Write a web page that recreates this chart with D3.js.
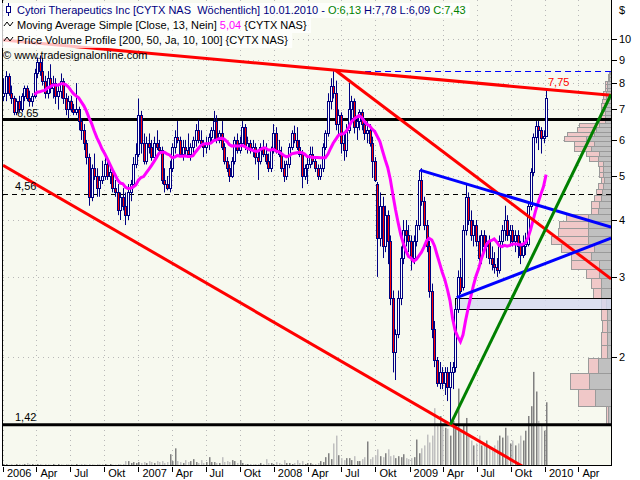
<!DOCTYPE html>
<html><head><meta charset="utf-8">
<script src="https://cdn.jsdelivr.net/npm/d3@7"></script>
<style>
body{margin:0;background:#fff}
svg{display:block}
text{font-family:"Liberation Sans",Arial,sans-serif;font-size:11px;white-space:pre}
</style>
</head><body>
<svg id="c" width="640" height="480"></svg>
<script>
// ---------- DATA ----------
// weekly candles [open, high, low, close], first week 2006-01-02 (Mondays)
const ohlc2006 = [
[7.5,8.2,7.3,7.6],[7.6,8.5,7.3,8.3],[8.3,8.4,7.5,7.6],[7.6,7.9,7.2,7.4],[7.4,7.5,6.8,6.9],
[6.9,7.4,6.8,7.3],[7.3,7.5,6.9,7.0],[7.0,7.6,6.9,7.5],[7.5,7.9,7.3,7.8],[7.8,7.9,7.3,7.4],
[7.4,7.7,7.1,7.3],[7.3,7.6,7.1,7.5],[7.5,8.6,7.4,8.4],[8.4,9.1,8.2,8.9],[8.9,9.2,8.3,8.5],
[8.5,9.1,7.9,8.1],[8.1,8.3,7.4,7.6],[7.6,8.5,7.4,8.2],[8.2,8.8,7.6,7.8],[7.8,8.3,7.4,8.0],
[8.0,8.2,7.2,7.5],[7.5,7.9,7.0,7.7],[7.7,8.4,7.4,8.1],[8.1,8.2,7.2,7.4],[7.4,7.6,6.8,7.0],
[7.0,7.5,6.7,7.3],[7.3,7.5,6.9,7.0],[7.0,7.2,6.8,6.9],[6.9,8.0,6.8,7.0],[7.0,7.1,6.3,6.6],
[6.6,6.7,6.0,6.3],[6.3,6.5,5.7,5.9],[5.9,6.0,5.3,5.5],[5.5,5.6,4.3,4.5],[4.5,5.3,4.4,5.2],
[5.2,5.6,4.9,5.0],[5.0,5.2,4.5,4.7],[4.7,5.0,4.5,4.9],[4.9,5.4,4.8,5.0],[5.0,5.6,4.9,5.3],
[5.3,5.5,4.9,5.0],[5.0,5.2,4.8,5.1],[5.1,5.1,4.6,4.7],[4.7,4.9,4.5,4.6],[4.6,4.8,4.1,4.2],
[4.2,4.6,4.0,4.5],[4.5,4.7,4.2,4.3],[4.3,4.6,3.9,4.1],[4.1,4.8,4.0,4.6],[4.6,4.9,4.4,4.8],
[4.8,5.5,4.7,5.3],[5.3,5.9,5.2,5.6]];
const ohlc2007 = [
[5.6,7.4,5.5,6.8],[6.8,6.95,5.6,5.9],[5.9,6.2,5.3,5.4],[5.4,6.1,5.3,5.9],[5.9,6.2,5.6,5.8],
[5.8,6.0,5.4,5.5],[5.5,6.1,5.5,5.9],[5.9,6.3,5.7,5.8],[5.8,6.0,5.6,5.7],[5.7,5.8,4.8,4.9],
[4.9,5.2,4.6,4.8],[4.8,5.0,4.65,4.7],[4.7,5.4,4.6,5.2],[5.2,5.9,5.1,5.8],[5.8,6.3,5.6,6.1],
[6.1,6.6,5.9,6.0],[6.0,6.1,5.5,5.6],[5.6,6.0,5.4,5.8],[5.8,6.0,5.5,5.7],[5.7,6.2,5.5,5.6],
[5.6,5.9,5.4,5.8],[5.8,6.1,5.6,6.0],[6.0,6.5,5.8,6.3],[6.3,6.65,5.9,6.0],[6.0,6.3,5.8,5.9],
[5.9,6.0,5.5,5.8],[5.8,6.1,5.6,5.9],[5.9,6.2,5.7,6.1],[6.1,6.4,5.9,6.3],[6.3,6.95,6.0,6.6],
[6.6,6.8,5.9,6.0],[6.0,6.3,5.9,6.2],[6.2,6.6,5.7,5.8],[5.8,5.9,5.3,5.4],[5.4,5.5,5.1,5.2],
[5.2,5.3,4.85,5.0],[5.0,5.5,4.95,5.4],[5.4,6.1,5.3,6.0],[6.0,6.2,5.6,5.7],[5.7,6.1,5.6,5.9],
[5.9,6.6,5.8,6.4],[6.4,6.5,5.7,5.8],[5.8,6.1,5.6,5.9],[5.9,6.0,5.6,5.7],[5.7,6.0,5.5,5.8],
[5.8,5.9,5.3,5.5],[5.5,5.7,4.9,5.4],[5.4,5.9,5.3,5.8],[5.8,6.0,5.5,5.6],[5.6,5.9,5.3,5.4],
[5.4,5.6,5.1,5.2],[5.2,5.8,5.1,5.7]];
const ohlc2008 = [
[5.7,6.5,5.6,6.2],[6.2,6.4,5.6,5.7],[5.7,6.0,5.5,5.6],[5.6,5.8,5.1,5.2],[5.2,5.4,4.85,5.0],
[5.0,5.4,4.9,5.3],[5.3,5.9,5.2,5.8],[5.8,6.3,5.7,6.2],[6.2,6.45,5.9,6.0],[6.0,6.4,5.7,5.8],
[5.8,6.0,5.5,5.6],[5.6,5.7,4.7,5.0],[5.0,5.3,4.9,5.2],[5.2,5.5,4.8,5.3],[5.3,5.8,5.2,5.6],
[5.6,5.8,5.3,5.4],[5.4,5.5,5.1,5.2],[5.2,5.3,4.9,5.0],[5.0,5.3,4.9,5.2],[5.2,5.9,5.1,5.8],
[5.8,6.3,5.7,6.2],[6.2,7.6,6.1,7.3],[7.3,8.2,7.0,7.9],[7.9,8.5,7.4,7.6],[7.6,8.1,6.3,6.5],
[6.5,7.0,6.1,6.8],[6.8,6.9,5.6,5.9],[5.9,6.2,5.4,5.7],[5.7,6.5,5.5,6.3],[6.3,8.0,6.2,7.0],
[7.0,7.5,6.6,7.3],[7.3,7.4,6.2,6.4],[6.4,6.8,6.0,6.6],[6.6,7.0,6.3,6.9],[6.9,7.0,6.3,6.5],
[6.5,6.7,6.0,6.2],[6.2,6.6,5.9,6.3],[6.3,6.5,5.8,5.9],[5.9,6.1,4.95,5.4],[5.4,5.5,4.85,4.9],
[4.8,4.85,3.0,3.65],[3.65,4.6,3.5,4.3],[4.3,4.5,3.3,3.5],[3.5,4.3,3.4,4.1],[4.1,4.2,3.2,3.6],
[3.6,3.7,2.6,2.7],[2.7,2.8,1.85,2.05],[2.05,2.3,1.78,2.25],[2.25,2.8,2.2,2.7],[2.7,3.5,2.6,3.3],
[3.3,4.0,3.2,3.8],[3.8,4.0,3.5,3.7],[3.7,3.9,3.4,3.6]];
const ohlc2009 = [
[3.6,3.7,3.1,3.3],[3.3,3.7,3.2,3.6],[3.6,4.0,3.5,3.9],[3.9,5.15,3.8,4.9],[4.9,5.2,4.3,4.4],
[4.4,4.5,3.8,3.9],[3.9,4.0,3.4,3.5],[3.5,3.6,2.7,2.8],[2.8,2.9,2.2,2.3],[2.3,2.4,1.9,1.97],
[1.97,2.0,1.72,1.75],[1.75,1.95,1.7,1.85],[1.85,1.9,1.7,1.75],[1.75,1.9,1.65,1.85],[1.85,1.9,1.6,1.72],
[1.72,1.95,1.42,1.85],[1.85,1.95,1.7,1.9],[1.9,2.6,1.85,2.55],[2.55,3.1,2.5,3.0],[3.0,3.3,2.75,2.8],
[2.85,3.9,2.8,3.8],[3.8,4.8,3.7,4.5],[4.5,4.6,3.9,4.0],[4.0,4.2,3.6,3.7],[3.7,4.0,3.5,3.9],
[3.9,4.0,3.5,3.6],[3.6,3.7,3.2,3.3],[3.3,3.8,3.2,3.7],[3.7,3.8,3.4,3.5],[3.5,3.7,3.3,3.6],
[3.6,3.7,3.2,3.3],[3.3,3.5,3.1,3.2],[3.2,3.4,3.05,3.15],[3.15,3.3,3.0,3.1],[3.1,3.7,3.05,3.6],
[3.6,3.9,3.5,3.8],[3.8,4.3,3.6,4.0],[4.0,4.1,3.6,3.7],[3.7,3.9,3.5,3.8],[3.8,3.9,3.5,3.6],
[3.6,3.8,3.4,3.7],[3.7,3.8,3.3,3.5],[3.5,3.6,3.2,3.35],[3.35,3.7,3.3,3.5],[3.5,3.75,3.35,3.55],
[3.55,4.4,3.5,4.3],[4.3,5.2,4.2,5.1],[5.1,6.2,5.0,6.1],[6.1,6.6,5.9,6.45],[6.45,6.6,5.7,6.3],
[6.3,6.4,5.6,6.05],[6.05,6.3,5.9,6.13],[6.13,7.78,6.09,7.43]];
// weekly volume (thousand shares)
const volume = [
30,30,10,30,10,30,30,10,30,60, 30,30,10,30,30,10,30,10,10,30, 10,30,10,10,30,10,30,10,30,10,
30,30,10,30,10,10,30,10,10,30, 10,30,10,10,30,10,
30,120,120,60,90,60,90,
60,90,60,120,90,60,120,90,120,60, 90,330,120,510,120,90,60,150,90,120, 180,90,60,150,60,90,240,90,90,60,
60,240,90,120,90,150,120,60,150,60, 30,30,30,10,30,30,60,30,180,60, 60,30,90,
60,30,150,60,60,30,60,150,60,120, 30,60,60,30,30,60,120,90,240,360, 180,660,900,300,210,150,210,210,150,270,
120,120,180,240,720,180,240,300,480,270, 240,360,480,270,300,210,270,240,330,210, 180,210,
240,780,360,510,600,930,690,900,1740,1260, 1500,1200,1140,1110,900,1350,1200,2340,1050,1200,
1440,900,750,600,660,900,600,660,750,540, 450,600,750,900,840,1140,900,660,750,600,
660,900,750,1050,1500,1800,2850,2250,1350,1200, 1050,1920];
// price volume profile: 50 bins from 1,42 to 8,52 (thousand shares)
const profileLow = 1.42, profileHigh = 8.52, profileBins = 50;
const profileDown = [300,1600,2200,1300,400,400,400,400,500,1000, 1000,1200,1200,2000,1700,2300,2300,2300,2300,1300,
 1200,1000,900,800,700,800,800,800,1300,1200, 2000,1700,2500,1700,1500,1200,600,600,600,600,
 600,500,500,500,400,400,400,200,200,100];
const profileUp = [200,1700,1900,1000,600,600,500,600,500,800, 1000,1300,2800,2000,3300,3700,3000,2900,2200,700,
 800,700,600,500,300,400,400,500,900,1300, 1700,2000,2200,2700,1900,2000,600,400,400,400,
 400,400,300,300,200,200,200,100,100,100];
const priceTicks = [2,3,4,5,6,7,8,9,10];
const hLevels = [6.65, 1.42];      // thick support/resistance lines
const dashLevel = 4.56;
const maPeriod = 13;
const trendLines = [
 {color:"#ff0000", a:["2006-01-01",9.95], b:["2010-06-28",7.52]},
 {color:"#ff0000", a:["2008-06-14",8.55], b:["2010-06-28",2.97]},
 {color:"#ff0000", a:["2006-01-01",5.28], b:["2010-06-28",0.887]},
 {color:"#0000ff", a:["2009-01-29",5.15], b:["2010-06-28",3.86]},
 {color:"#0000ff", a:["2009-05-08",2.70], b:["2010-06-28",3.65]},
 {color:"#008000", a:["2009-04-21",1.42], b:["2010-06-28",7.55]}
];
const channelValue = "7,75";
const monthNames = ["Jan","Feb","Mär","Apr","Mai","Jun","Jul","Aug","Sep","Okt","Nov","Dez"];

// ---------- CHART ----------
const svg = d3.select("#c");
const L=3, R=611, T=0, B=465;
const parse = d3.timeParse("%Y-%m-%d");
const x = d3.scaleTime().domain([new Date(2006,0,1), new Date(2010,0,1)]).range([3,545]);
const y = d3.scaleLog().domain([2,10]).range([357,39]);
const yv = d3.scaleLinear().domain([0,3000]).range([B, B-98]);
const xp = d3.scaleLinear().domain([0,6000]).range([0,60]);

const dates = d3.timeMonday.range(new Date(2006,0,2), new Date(2010,0,5));
const ohlc = [...ohlc2006, ...ohlc2007, ...ohlc2008, ...ohlc2009];
const data = ohlc.map((d,i)=>({date:dates[i], o:d[0], h:d[1], l:d[2], c:d[3], v:volume[i]}));
data.forEach((d,i)=>{ if(i>=maPeriod-1){ d.ma = d3.mean(data.slice(i-maPeriod+1,i+1), e=>e.c);} });

svg.append("rect").attr("width",640).attr("height",480).attr("fill","#fff");
svg.append("rect").attr("x",L).attr("y",T).attr("width",R-L).attr("height",B-T).attr("fill","#f7f9ef");
svg.append("defs").append("clipPath").attr("id","clip").append("rect")
  .attr("x",L).attr("y",T).attr("width",R-L).attr("height",B-T);
const plot = svg.append("g").attr("clip-path","url(#clip)");

// grid
const qTicks = d3.timeMonth.every(3).range(new Date(2006,0,1), new Date(2010,4,2));
plot.append("g").selectAll("line").data(qTicks).join("line")
  .attr("x1",d=>Math.round(x(d))+0.5).attr("x2",d=>Math.round(x(d))+0.5)
  .attr("y1",T).attr("y2",B).attr("stroke","#b8b8b8").attr("stroke-dasharray","1,4");
plot.append("g").selectAll("line").data(priceTicks).join("line")
  .attr("x1",L).attr("x2",R).attr("y1",d=>Math.round(y(d))+0.5).attr("y2",d=>Math.round(y(d))+0.5)
  .attr("stroke","#b8b8b8").attr("stroke-dasharray","1,4");

// volume bars
plot.append("g").selectAll("rect").data(data).join("rect")
  .attr("x",d=>Math.round(x(d.date))).attr("width",1.5)
  .attr("y",d=>yv(d.v)).attr("height",d=>B-yv(d.v))
  .attr("fill",d=>d.c>=d.o?"#808080":"#c0c0c0");

// volume profile
const binSize = (profileHigh-profileLow)/profileBins;
const bins = profileDown.map((dv,k)=>({lo:profileLow+k*binSize, hi:profileLow+(k+1)*binSize, down:dv, up:profileUp[k]}));
const pg = plot.append("g");
bins.forEach(b=>{
  const yt = Math.round(y(b.hi))+0.5, yb = Math.round(y(b.lo))+0.5;
  const wd = Math.round(xp(b.down)), wu = Math.round(xp(b.up));
  pg.append("rect").attr("x",R-wd-wu+0.5).attr("y",yt).attr("width",wu).attr("height",yb-yt)
    .attr("fill","#f0c8c8").attr("stroke","#9a9a9a");
  pg.append("rect").attr("x",R-wd+0.5).attr("y",yt).attr("width",wd).attr("height",yb-yt)
    .attr("fill","#c0c0c0").attr("stroke","#9a9a9a");
});
// highlighted bin box
const boxBin = bins[8];
plot.append("rect").attr("x",Math.round(x(parse("2009-05-03")))+0.5).attr("y",Math.round(y(boxBin.hi))+0.5)
  .attr("width",R-Math.round(x(parse("2009-05-03")))).attr("height",Math.round(y(boxBin.lo))-Math.round(y(boxBin.hi)))
  .attr("fill","#d6daf0").attr("fill-opacity",0.8).attr("stroke","#000");
// profile top dashed line
plot.append("line").attr("x1",x(parse("2008-08-07"))).attr("x2",R)
  .attr("y1",Math.round(y(profileHigh))+0.5).attr("y2",Math.round(y(profileHigh))+0.5)
  .attr("stroke","#0000ff").attr("stroke-dasharray","6,4");

// horizontal levels
plot.append("g").selectAll("line").data(hLevels).join("line")
  .attr("x1",L).attr("x2",R).attr("y1",d=>y(d)).attr("y2",d=>y(d))
  .attr("stroke","#000").attr("stroke-width",3);
plot.append("line").attr("x1",L).attr("x2",R)
  .attr("y1",Math.round(y(dashLevel))+0.5).attr("y2",Math.round(y(dashLevel))+0.5)
  .attr("stroke","#000").attr("stroke-dasharray","5,4");

// candles
const cg = plot.append("g");
cg.selectAll("line").data(data).join("line")
  .attr("x1",d=>Math.round(x(d.date))+0.5).attr("x2",d=>Math.round(x(d.date))+0.5)
  .attr("y1",d=>y(d.h)).attr("y2",d=>y(d.l)).attr("stroke","#000080");
cg.selectAll("rect").data(data).join("rect")
  .attr("x",d=>Math.round(x(d.date))-0.5)
  .attr("y",d=>Math.round(y(Math.max(d.o,d.c)))+0.5)
  .attr("width",2)
  .attr("height",d=>Math.max(1,Math.round(y(Math.min(d.o,d.c)))-Math.round(y(Math.max(d.o,d.c)))))
  .attr("fill",d=>d.c>=d.o?"#ffffff":"#ff0000").attr("stroke","#000080");

// moving average
plot.append("path").datum(data.filter(d=>d.ma!==undefined))
  .attr("d",d3.line().x(d=>x(d.date)).y(d=>y(d.ma)))
  .attr("fill","none").attr("stroke","#ff00ff").attr("stroke-width",3);

// trend lines
plot.append("g").selectAll("line").data(trendLines).join("line")
  .attr("x1",d=>x(parse(d.a[0]))).attr("y1",d=>y(d.a[1]))
  .attr("x2",d=>x(parse(d.b[0]))).attr("y2",d=>y(d.b[1]))
  .attr("stroke",d=>d.color).attr("stroke-width",3);

// level labels
const lbl = svg.append("g");
lbl.append("text").attr("x",17).attr("y",y(6.65)-3).text("6,65");
lbl.append("text").attr("x",15).attr("y",y(dashLevel)-4).text("4,56");
lbl.append("text").attr("x",15).attr("y",y(1.42)-4).text("1,42");
lbl.append("text").attr("x",548).attr("y",86).attr("fill","#ff0000").text(channelValue);

// frame
svg.append("rect").attr("x",L-0.5).attr("y",T-0.5).attr("width",R-L+1).attr("height",B-T+1)
  .attr("fill","none").attr("stroke","#000");

// right axis
const ra = svg.append("g");
ra.selectAll("line").data(priceTicks).join("line")
  .attr("x1",R+1).attr("x2",R+6).attr("y1",d=>Math.round(y(d))+0.5).attr("y2",d=>Math.round(y(d))+0.5)
  .attr("stroke","#000");
ra.selectAll("text").data(priceTicks).join("text")
  .attr("x",R+8).attr("y",d=>y(d)+4).text(d=>d);
ra.append("text").attr("x",R+8).attr("y",14).text("$");

// bottom axis
const ba = svg.append("g");
ba.selectAll("line").data(qTicks).join("line")
  .attr("x1",d=>Math.round(x(d))+0.5).attr("x2",d=>Math.round(x(d))+0.5)
  .attr("y1",B+2).attr("y2",B+7).attr("stroke","#000");
ba.selectAll("text").data(qTicks).join("text")
  .attr("x",d=>x(d)+4).attr("y",B+12)
  .text(d=>d.getMonth()===0?d.getFullYear():monthNames[d.getMonth()]);

// legend
const lg = svg.append("g");
function row(yb, parts, bg){
  const t = lg.append("text").attr("x",17).attr("y",yb);
  parts.forEach(p=>t.append("tspan").attr("fill",p[1]).text(p[0]));
  if(bg){
    const bb = t.node().getBBox();
    lg.insert("rect","text").attr("x",2).attr("y",yb-11).attr("width",bb.x+bb.width+2).attr("height",15)
      .attr("fill","#fff").attr("fill-opacity",0.75);
  }
  return t;
}
row(14,[["Cytori Therapeutics Inc [CYTX NAS  Wöchentlich] 10.01.2010 - ","#000080"],["O:6,13","#008000"],[" H:7,78 L:6,09 ","#000080"],["C:7,43","#008000"]],true);
row(29,[["Moving Average Simple [Close, 13, Nein] ","#000"],["5,04","#ff00ff"],[" {CYTX NAS}","#000"]],true);
row(44,[["Price Volume Profile [200, 50, Ja, 10, 100] {CYTX NAS}","#000"]],true);
lg.append("text").attr("x",3).attr("y",59).text("© www.tradesignalonline.com");
// legend icons
lg.append("line").attr("x1",8.5).attr("x2",8.5).attr("y1",3).attr("y2",16).attr("stroke","#000080");
lg.append("rect").attr("x",6.5).attr("y",6.5).attr("width",4).attr("height",6).attr("fill","#fff").attr("stroke","#000080");
[25,40].forEach(yy=>{
  lg.append("path").attr("d",`M4,${yy+1} L7,${yy-3} L10,${yy+1} L13,${yy-3}`)
    .attr("fill","none").attr("stroke","#000");
});
</script>
</body></html>
